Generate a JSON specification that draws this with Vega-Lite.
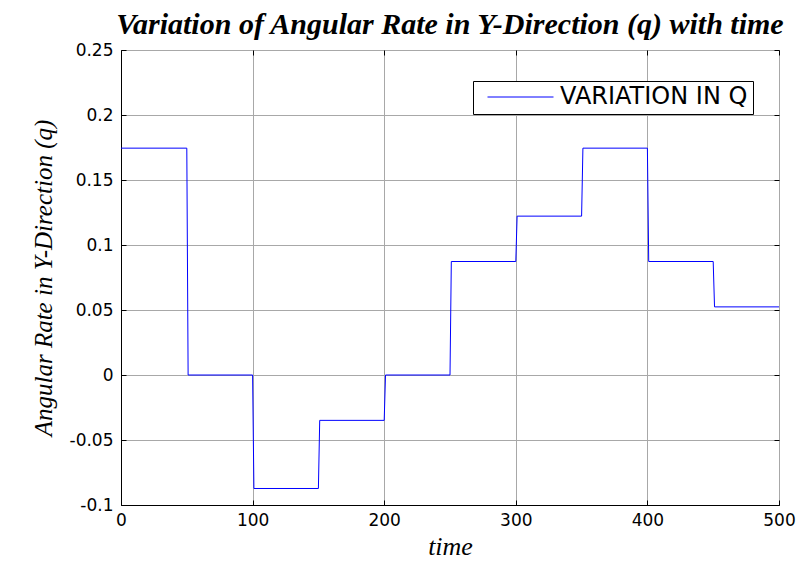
{
  "$schema": "https://vega.github.io/schema/vega-lite/v6.json",
  "autosize": "none",
  "width": 658,
  "height": 455,
  "padding": {"left": 121, "top": 50, "right": 18, "bottom": 60},
  "background": "white",
  "title": {
    "text": "Variation of Angular Rate in Y-Direction (q) with time",
    "font": "Liberation Serif",
    "fontSize": 30,
    "fontWeight": "bold",
    "fontStyle": "italic",
    "color": "black",
    "anchor": "middle",
    "offset": 1
  },
  "data": {
    "values": [
      {"time": 0, "q": 0.1745, "series": "VARIATION IN Q"},
      {"time": 50, "q": 0.1745, "series": "VARIATION IN Q"},
      {"time": 51, "q": 0, "series": "VARIATION IN Q"},
      {"time": 100, "q": 0, "series": "VARIATION IN Q"},
      {"time": 101, "q": -0.0873, "series": "VARIATION IN Q"},
      {"time": 150, "q": -0.0873, "series": "VARIATION IN Q"},
      {"time": 151, "q": -0.0349, "series": "VARIATION IN Q"},
      {"time": 200, "q": -0.0349, "series": "VARIATION IN Q"},
      {"time": 201, "q": 0, "series": "VARIATION IN Q"},
      {"time": 250, "q": 0, "series": "VARIATION IN Q"},
      {"time": 251, "q": 0.0873, "series": "VARIATION IN Q"},
      {"time": 300, "q": 0.0873, "series": "VARIATION IN Q"},
      {"time": 301, "q": 0.1222, "series": "VARIATION IN Q"},
      {"time": 350, "q": 0.1222, "series": "VARIATION IN Q"},
      {"time": 351, "q": 0.1745, "series": "VARIATION IN Q"},
      {"time": 400, "q": 0.1745, "series": "VARIATION IN Q"},
      {"time": 401, "q": 0.0873, "series": "VARIATION IN Q"},
      {"time": 450, "q": 0.0873, "series": "VARIATION IN Q"},
      {"time": 451, "q": 0.0524, "series": "VARIATION IN Q"},
      {"time": 500, "q": 0.0524, "series": "VARIATION IN Q"}
    ]
  },
  "layer": [
    {
      "mark": {"type": "line", "strokeWidth": 1, "clip": true},
      "encoding": {
        "x": {
          "field": "time", "type": "quantitative",
          "scale": {"domain": [0, 500], "nice": false},
          "axis": {
            "orient": "bottom",
            "values": [0, 100, 200, 300, 400, 500],
            "title": "time",
            "titleFont": "Liberation Serif",
            "titleFontStyle": "italic",
            "titleFontWeight": "normal",
            "titleFontSize": 26,
            "titleColor": "black",
            "titlePadding": 5,
            "labelFont": "DejaVu Sans",
            "labelFontSize": 17,
            "labelColor": "black",
            "labelPadding": 12,
            "labelFlush": false,
            "labelOverlap": false,
            "tickSize": -5,
            "tickColor": "black",
            "domainColor": "black",
            "grid": true,
            "gridColor": "#a8a8a8"
          }
        },
        "y": {
          "field": "q", "type": "quantitative",
          "scale": {"domain": [-0.1, 0.25], "nice": false, "zero": false},
          "axis": {
            "orient": "left",
            "values": [-0.1, -0.05, 0, 0.05, 0.1, 0.15, 0.2, 0.25],
            "labelExpr": "datum.value + ''",
            "title": "Angular Rate in Y-Direction (q)",
            "titleFont": "Liberation Serif",
            "titleFontStyle": "italic",
            "titleFontWeight": "normal",
            "titleFontSize": 25,
            "titleColor": "black",
            "titlePadding": 13,
            "labelFont": "DejaVu Sans",
            "labelFontSize": 17,
            "labelColor": "black",
            "labelPadding": 13,
            "labelFlush": false,
            "labelOverlap": false,
            "tickSize": -5,
            "tickColor": "black",
            "domainColor": "black",
            "grid": true,
            "gridColor": "#a8a8a8"
          }
        },
        "color": {
          "field": "series", "type": "nominal",
          "scale": {"range": ["#0000ff"]},
          "legend": {
            "title": null,
            "orient": "none",
            "legendX": 352,
            "legendY": 31,
            "fillColor": "white",
            "strokeColor": "black",
            "padding": 5,
            "clipHeight": 22,
            "symbolType": "stroke",
            "symbolSize": 4356,
            "symbolStrokeWidth": 1,
            "symbolOffset": 9,
            "labelFont": "DejaVu Sans",
            "labelFontSize": 24,
            "labelColor": "black",
            "labelOffset": 6,
            "labelLimit": 0
          }
        }
      }
    },
    {
      "mark": {"type": "line", "opacity": 0},
      "encoding": {
        "x": {
          "field": "time", "type": "quantitative",
          "axis": {"orient": "top", "values": [0, 100, 200, 300, 400, 500], "labels": false, "title": null, "domain": false, "grid": false, "tickSize": -5, "tickColor": "black"}
        },
        "y": {
          "field": "q", "type": "quantitative",
          "axis": {"orient": "right", "values": [-0.1, -0.05, 0, 0.05, 0.1, 0.15, 0.2, 0.25], "labels": false, "title": null, "domain": false, "grid": false, "tickSize": -5, "tickColor": "black"}
        }
      }
    }
  ],
  "config": {
    "view": {"stroke": null}
  }
}
